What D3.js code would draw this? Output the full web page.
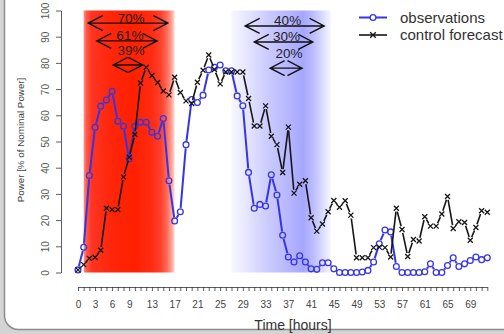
<!DOCTYPE html>
<html>
<head>
<meta charset="utf-8">
<script src="https://cdn.jsdelivr.net/npm/d3@7"></script>
<style>
  html, body { margin: 0; padding: 0; background: #d4d4d4; }
  svg { display: block; }
</style>
</head>
<body>
<svg id="chart" width="504" height="334"></svg>
<script>
// Hourly wind power: observations vs. control forecast (% of nominal power)
const hours = [0,1,2,3,4,5,6,7,8,9,10,11,12,13,14,15,16,17,18,19,20,21,22,23,24,25,26,27,28,29,30,31,32,33,34,35,36,
  37,38,39,40,41,42,43,44,45,46,47,48,49,50,51,52,53,54,55,56,57,58,59,60,61,62,63,64,65,66,67,68,69,70,71,72];

const observations = [1, 9.6, 37, 55.4, 63.5, 65.8, 69.2, 57.7, 55.8, 43.3, 55.8, 57.3, 57.3, 53.5, 52, 58.8, 35, 19.7, 23.2,
  48.8, 66, 64.9, 67.7, 77.3, 78.3, 79.2, 77, 77, 67.4, 63.6, 38.2, 24.5, 26, 25.4, 37.3, 29.6, 14.2, 5.9, 4, 6.4, 4,
  1.4, 1.2, 3.7, 3.7, 1.4, 0, 0, 0, 0, 0.2, 0.8, 4, 11, 16.2, 15.5, 2.3, 0, 0, 0, 0, 0.3, 3.3, 0, 0, 2.7, 5.6, 2.3,
  3.3, 4.6, 5.9, 4.9, 5.6];

const controlForecast = [1, 3, 5.4, 5.8, 8.5, 24.5, 24, 24, 36.5, 44, 52.7, 72.3, 78.3, 75.2, 72.5, 69.3, 67.8, 74.5, 68.7,
  65.5, 64.5, 72.6, 77.2, 83, 77.5, 72, 76.5, 76.5, 76.5, 76.5, 66.4, 55.9, 55.9, 63.6, 52, 48.8, 38.2, 55.5, 30.3, 33.7,
  35, 20.9, 15.8, 18.5, 23.2, 27.5, 24.9, 27.4, 21.9, 5.6, 5.6, 5.6, 9.5, 9.7, 9.5, 5.9, 24.5, 16.4, 6.1, 12.6, 12,
  21.3, 17.7, 17.7, 22.3, 29, 16.8, 19.4, 19.1, 12.3, 17.2, 23.6, 23];

const yTicks = [0, 10, 20, 30, 40, 50, 60, 70, 80, 90, 100];
const xTickLabels = [0, 3, 6, 9, 13, 17, 21, 25, 29, 33, 37, 41, 45, 49, 53, 57, 61, 65, 69];

// Highlighted periods (hours)
const redPeriod = [1, 17];
const bluePeriod = [27, 44.5];

// Interval arrows: label, start hour, end hour, power level
const redLabels = ["70%", "61%", "39%"];
const redStart = [1.8, 3.3, 6.2];
const redEnd = [15.8, 13.9, 11.4];
const redLevel = [95.2, 88.4, 79.2];

const blueLabels = ["40%", "30%", "20%"];
const blueStart = [29.4, 31.0, 33.8];
const blueEnd = [43.3, 41.3, 39.4];
const blueLevel = [94.1, 88.0, 78.0];

const seriesNames = ["observations", "control forecast"];

const svg = d3.select("#chart");
const font = "'Liberation Sans', Arial, Helvetica, sans-serif";

// panel frame
svg.append("rect").attr("x", 0).attr("y", 0).attr("width", 504).attr("height", 334).attr("fill", "#d4d4d4");
svg.append("rect")
  .attr("x", 4.5).attr("y", -30).attr("width", 620).attr("height", 359.5)
  .attr("rx", 14).attr("ry", 14)
  .attr("fill", "#ffffff").attr("stroke", "#8c8c8c").attr("stroke-width", 1.5);

const x = d3.scaleLinear().domain([0, 72]).range([78, 487.3]);
const y = d3.scaleLinear().domain([0, 100]).range([272.5, 10.5]);

// gradients for the shaded periods
const defs = svg.append("defs");
function gradient(id, stops) {
  const g = defs.append("linearGradient").attr("id", id)
    .attr("x1", 0).attr("x2", 1).attr("y1", 0).attr("y2", 0);
  stops.forEach(([o, c]) => g.append("stop").attr("offset", o).attr("stop-color", c));
}
gradient("redGrad", [
  [0, "#ff9486"], [0.03, "#ff5a4a"], [0.09, "#ff3422"], [0.3, "#ff260a"], [0.55, "#ff2000"],
  [0.75, "#ff2c12"], [0.85, "#ff402c"], [0.92, "#ff6e5c"], [0.97, "#ffaa9c"], [1, "#ffdcd6"]
]);
gradient("blueGrad", [
  [0, "#f7f7ff"], [0.15, "#e6e6ff"], [0.35, "#cdcdff"], [0.55, "#b8b8ff"], [0.72, "#a6a6ff"],
  [0.82, "#bcbcff"], [0.92, "#dcdcff"], [1, "#f8f8ff"]
]);

svg.append("rect")
  .attr("x", x(redPeriod[0])).attr("width", x(redPeriod[1]) - x(redPeriod[0]))
  .attr("y", y(100)).attr("height", y(0) - y(100))
  .attr("fill", "url(#redGrad)");
svg.append("rect")
  .attr("x", x(bluePeriod[0])).attr("width", x(bluePeriod[1]) - x(bluePeriod[0]))
  .attr("y", y(100)).attr("height", y(0) - y(100))
  .attr("fill", "url(#blueGrad)");

// axes
const yAxis = svg.append("g").attr("transform", "translate(61,0)")
  .call(d3.axisLeft(y).tickValues(yTicks).tickSize(5).tickSizeOuter(0).tickPadding(0));
yAxis.select(".domain").attr("stroke", "#333").attr("stroke-width", 0.8);
yAxis.selectAll(".tick line").attr("stroke", "#333").attr("stroke-width", 0.8);
yAxis.selectAll(".tick text")
  .attr("x", 0).attr("y", 0).attr("dy", null)
  .attr("text-anchor", "middle")
  .attr("dominant-baseline", "central")
  .attr("transform", "translate(-16,0) rotate(-90)")
  .attr("font-family", font).attr("font-size", 10).attr("fill", "#555");

const xAxis = svg.append("g").attr("transform", "translate(0,287)")
  .call(d3.axisBottom(x).tickValues(hours).tickSize(4).tickSizeOuter(0)
    .tickFormat(d => xTickLabels.includes(d) ? d : ""));
xAxis.select(".domain").attr("stroke", "#333").attr("stroke-width", 0.8);
xAxis.selectAll(".tick line").attr("stroke", "#333").attr("stroke-width", 0.8);
xAxis.selectAll(".tick text")
  .attr("y", 17).attr("dy", "0.35em")
  .attr("font-family", font).attr("font-size", 10).attr("fill", "#444");

svg.append("text")
  .attr("transform", "translate(20,140) rotate(-90)")
  .attr("text-anchor", "middle").attr("dominant-baseline", "central")
  .attr("font-family", font).attr("font-size", 9.8).attr("fill", "#444")
  .text("Power [% of Nominal Power]");

svg.append("text")
  .attr("x", 293).attr("y", 325).attr("dy", "0.35em")
  .attr("text-anchor", "middle")
  .attr("font-family", font).attr("font-size", 14).attr("fill", "#333")
  .text("Time [hours]");

// line with gaps around the markers
function gappedLine(values, color, width, gap) {
  const pts = hours.map((h, i) => [x(h), y(values[i])]);
  const segs = [];
  for (let i = 0; i < pts.length - 1; i++) {
    const [x0, y0] = pts[i], [x1, y1] = pts[i + 1];
    const L = Math.hypot(x1 - x0, y1 - y0);
    if (L > 2 * gap + 0.5) {
      const ux = (x1 - x0) / L, uy = (y1 - y0) / L;
      segs.push([[x0 + ux * gap, y0 + uy * gap], [x1 - ux * gap, y1 - uy * gap]]);
    }
  }
  svg.append("g").selectAll("line").data(segs).join("line")
    .attr("x1", d => d[0][0]).attr("y1", d => d[0][1])
    .attr("x2", d => d[1][0]).attr("y2", d => d[1][1])
    .attr("stroke", color).attr("stroke-width", width).attr("stroke-linecap", "butt");
  return pts;
}

const blue = "#3535e4";
const black = "#151515";

const obsPts = gappedLine(observations, blue, 2, 3.8);
svg.append("g").selectAll("circle").data(obsPts).join("circle")
  .attr("cx", d => d[0]).attr("cy", d => d[1]).attr("r", 2.9)
  .attr("fill", "none").attr("stroke", blue).attr("stroke-width", 1.3);

const fcPts = gappedLine(controlForecast, black, 1.6, 3.4);
const cross = (g, cx, cy, s) => g.append("path")
  .attr("d", `M${cx - s},${cy - s}L${cx + s},${cy + s}M${cx - s},${cy + s}L${cx + s},${cy - s}`)
  .attr("stroke", black).attr("stroke-width", 1.3).attr("fill", "none");
const crossG = svg.append("g");
fcPts.forEach(p => cross(crossG, p[0], p[1], 2.5));

// interval arrows
const arrowG = svg.append("g");
function arrow(h0, h1, level, label, diamond) {
  const x0 = x(h0), x1 = x(h1), yy = y(level);
  const dx = 14.5, dy = 7.5;
  arrowG.append("path")
    .attr("d", `M${x0},${yy}L${x1},${yy}` +
      `M${x0 + dx},${yy - dy}L${x0},${yy}L${x0 + dx},${yy + dy}` +
      `M${x1 - dx},${yy - dy}L${x1},${yy}L${x1 - dx},${yy + dy}`)
    .attr("stroke", "#111").attr("stroke-width", 1.4).attr("fill", "none");
  arrowG.append("text")
    .attr("x", (x0 + x1) / 2 + 3).attr("y", diamond ? yy - 10 : yy - 0.5)
    .attr("text-anchor", "middle")
    .attr("font-family", font).attr("font-size", 13.5).attr("fill", "#222")
    .text(label);
}
redLabels.forEach((l, i) => arrow(redStart[i], redEnd[i], redLevel[i], l, i === 2));
blueLabels.forEach((l, i) => arrow(blueStart[i], blueEnd[i], blueLevel[i], l, i === 2));

// legend
const lg = svg.append("g");
lg.append("line").attr("x1", 359).attr("x2", 387).attr("y1", 17.5).attr("y2", 17.5)
  .attr("stroke", blue).attr("stroke-width", 2);
lg.append("circle").attr("cx", 373).attr("cy", 17.5).attr("r", 2.9)
  .attr("fill", "#ffffff").attr("stroke", blue).attr("stroke-width", 1.3);
lg.append("line").attr("x1", 359).attr("x2", 387).attr("y1", 35).attr("y2", 35)
  .attr("stroke", black).attr("stroke-width", 1.6);
cross(lg, 373, 35, 2.8);
lg.selectAll("text").data(seriesNames).join("text")
  .attr("x", 400).attr("y", (d, i) => i === 0 ? 17.5 : 35).attr("dy", "0.35em")
  .attr("font-family", font).attr("font-size", 15).attr("fill", "#333")
  .text(d => d);
</script>
</body>
</html>
